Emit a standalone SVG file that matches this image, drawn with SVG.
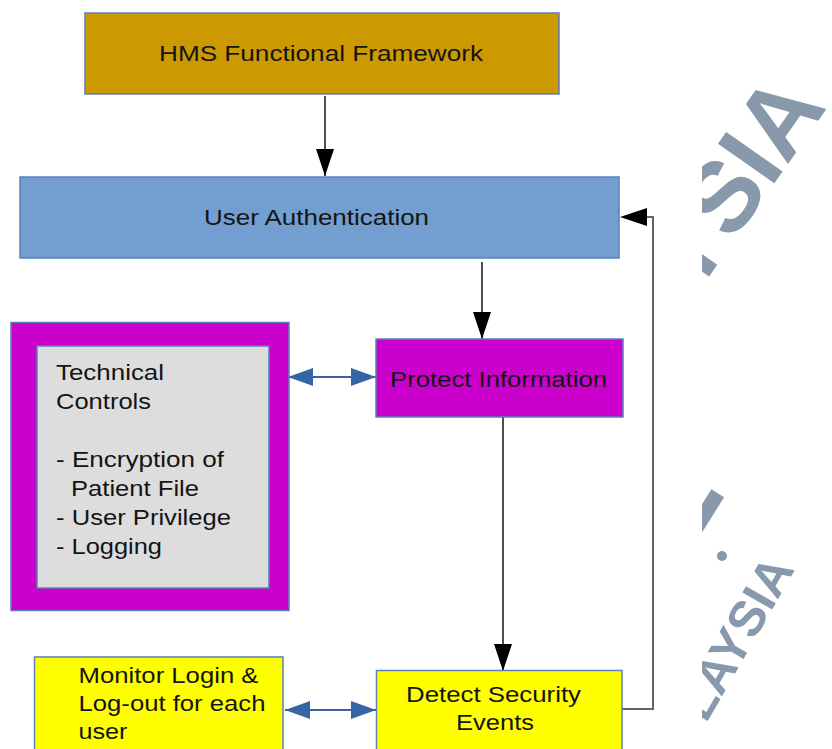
<svg xmlns="http://www.w3.org/2000/svg" width="832" height="749" viewBox="0 0 832 749">
  <style>
    .node { stroke: #5b7fb8; stroke-width: 1.5; }
    .lbl { font-family: "Liberation Sans", Arial, sans-serif; font-size: 22px; fill: #141414; }
    .flow { fill: none; stroke: #222; stroke-width: 1.6; }
    .back { fill: none; stroke: #666; stroke-width: 2; }
    .link { fill: none; stroke: #3465a4; stroke-width: 2.2; }
    .mark { font-family: "Liberation Sans", Arial, sans-serif; font-weight: bold; fill: #8799ab; }
  </style>
  <defs>
    <marker id="arrowBlack" markerUnits="userSpaceOnUse" markerWidth="28" markerHeight="18" refX="27" refY="9" orient="auto">
      <path d="M0,0 L27,9 L0,18 Z" fill="#000"/>
    </marker>
    <marker id="arrowBlue" markerUnits="userSpaceOnUse" markerWidth="26" markerHeight="18" refX="25" refY="9" orient="auto-start-reverse">
      <path d="M0,0 L25,9 L0,18 Z" fill="#3465a4"/>
    </marker>
    <clipPath id="markClip">
      <rect x="702" y="0" width="130" height="749"/>
    </clipPath>
  </defs>

  <rect width="832" height="749" fill="#fff"/>

  <!-- background watermark -->
  <g id="watermark" clip-path="url(#markClip)">
    <text class="mark" font-size="100" transform="translate(694,298) rotate(-55)">YSIA</text>
    <text class="mark" font-size="50" fill="#93a4b4" transform="translate(706,724) rotate(-60)">LAYSIA</text>
    <rect x="698" y="490" width="15" height="46" fill="#8799ab" transform="rotate(32 706 513)"/>
    <circle cx="722" cy="556" r="5" fill="#8799ab"/>
  </g>

  <!-- connectors -->
  <g id="connectors">
    <line class="flow" x1="325" y1="96" x2="325" y2="176" marker-end="url(#arrowBlack)"/>
    <line class="flow" x1="482" y1="262" x2="482" y2="339" marker-end="url(#arrowBlack)"/>
    <line class="flow" x1="503" y1="417" x2="503" y2="671" marker-end="url(#arrowBlack)"/>
    <polyline class="back" points="622,709 653,709 653,217 647,217"/>
    <path d="M647,208 L620,217 L647,226 Z" fill="#000"/>
    <line class="link" x1="288" y1="377" x2="376" y2="377" marker-start="url(#arrowBlue)" marker-end="url(#arrowBlue)"/>
    <line class="link" x1="285" y1="710" x2="376" y2="710" marker-start="url(#arrowBlue)" marker-end="url(#arrowBlue)"/>
  </g>

  <g id="hms-framework">
    <rect class="node" x="85" y="13" width="474" height="81" fill="#cc9900"/>
    <text class="lbl" x="159" y="61" textLength="324" lengthAdjust="spacingAndGlyphs">HMS Functional Framework</text>
  </g>

  <g id="user-authentication">
    <rect class="node" x="20" y="177" width="599" height="81" fill="#729fcf"/>
    <text class="lbl" x="204" y="225" textLength="225" lengthAdjust="spacingAndGlyphs">User Authentication</text>
  </g>

  <g id="technical-controls">
    <rect class="node" x="11" y="322.5" width="278" height="288" fill="#cc00cc"/>
    <rect class="node" x="37" y="346" width="232" height="242" fill="#dddddd"/>
    <text class="lbl" x="56" y="380" textLength="108" lengthAdjust="spacingAndGlyphs">Technical</text>
    <text class="lbl" x="56" y="409" textLength="95" lengthAdjust="spacingAndGlyphs">Controls</text>
    <text class="lbl" x="56" y="467" textLength="168" lengthAdjust="spacingAndGlyphs">- Encryption of</text>
    <text class="lbl" x="71" y="496" textLength="128" lengthAdjust="spacingAndGlyphs">Patient File</text>
    <text class="lbl" x="56" y="525" textLength="175" lengthAdjust="spacingAndGlyphs">- User Privilege</text>
    <text class="lbl" x="56" y="554" textLength="106" lengthAdjust="spacingAndGlyphs">- Logging</text>
  </g>

  <g id="protect-information">
    <rect class="node" x="376" y="339" width="247" height="78" fill="#cc00cc"/>
    <text class="lbl" x="390" y="387" textLength="217" lengthAdjust="spacingAndGlyphs">Protect Information</text>
  </g>

  <g id="monitor-login">
    <rect class="node" x="34.5" y="657" width="248.5" height="100" fill="#ffff00"/>
    <text class="lbl" x="78.5" y="683" textLength="180" lengthAdjust="spacingAndGlyphs">Monitor Login &amp;</text>
    <text class="lbl" x="78.5" y="711" textLength="187" lengthAdjust="spacingAndGlyphs">Log-out for each</text>
    <text class="lbl" x="78.5" y="739" textLength="49" lengthAdjust="spacingAndGlyphs">user</text>
  </g>

  <g id="detect-security">
    <rect class="node" x="376.5" y="670.5" width="245.5" height="90" fill="#ffff00"/>
    <text class="lbl" x="406" y="702" textLength="175" lengthAdjust="spacingAndGlyphs">Detect Security</text>
    <text class="lbl" x="456" y="730" textLength="78" lengthAdjust="spacingAndGlyphs">Events</text>
  </g>
</svg>
